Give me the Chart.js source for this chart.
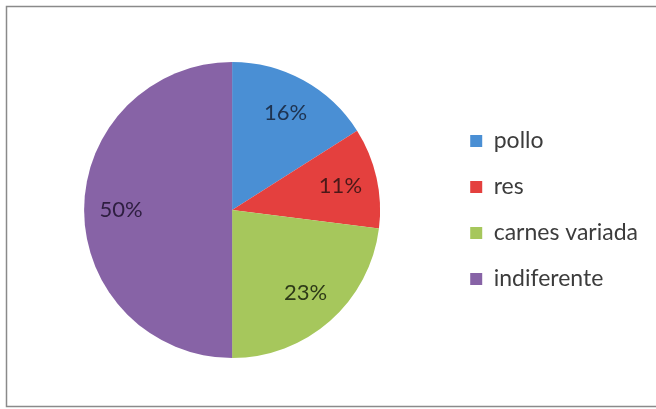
<!DOCTYPE html>
<html>
<head>
<meta charset="utf-8">
<script src="https://cdn.jsdelivr.net/npm/chart.js@4.4.1/dist/chart.umd.min.js"></script>
<style>
  html, body { margin: 0; padding: 0; background: #fff; }
  #wrap { width: 656px; height: 409px; position: relative; }
</style>
</head>
<body>
<div id="wrap"><canvas id="pieChart" width="656" height="409"></canvas></div>
<script>
// data
const categories = ['pollo', 'res', 'carnes variada', 'indiferente'];
const shares = [16, 11, 23, 50];
const sliceColors = ['#4a8fd4', '#e4403e', '#a6c75c', '#8763a6'];
const labelColors = ['#1e3350', '#4a1818', '#2e3a18', '#2e1e40'];

// percentage text inside each slice
const sliceLabels = {
  id: 'sliceLabels',
  afterDatasetsDraw(chart) {
    const ctx = chart.ctx;
    const meta = chart.getDatasetMeta(0);
    ctx.save();
    ctx.font = '22px Lato';
    ctx.textAlign = 'center';
    ctx.textBaseline = 'middle';
    meta.data.forEach((arc, i) => {
      const mid = (arc.startAngle + arc.endAngle) / 2;
      const r = arc.outerRadius * 0.75;
      ctx.fillStyle = labelColors[i];
      ctx.fillText(shares[i] + '%', arc.x + Math.cos(mid) * r, arc.y + Math.sin(mid) * r);
    });
    ctx.restore();
  }
};

// thin frame round the chart like the excel chart box
const frame = {
  id: 'frame',
  beforeDraw(chart) {
    const ctx = chart.ctx;
    ctx.save();
    ctx.strokeStyle = '#8a8a8a';
    ctx.lineWidth = 1.5;
    ctx.strokeRect(6.5, 6.5, 700, 400);
    ctx.restore();
  }
};

new Chart(document.getElementById('pieChart').getContext('2d'), {
  type: 'pie',
  data: {
    labels: categories,
    datasets: [{
      data: shares,
      backgroundColor: sliceColors,
      borderWidth: 0
    }]
  },
  options: {
    responsive: false,
    animation: false,
    layout: { padding: { left: 17, right: 8, top: 62, bottom: 51 } },
    plugins: {
      tooltip: { enabled: false },
      legend: {
        position: 'right',
        labels: {
          color: '#3c3c3c',
          font: { family: 'Lato', size: 23 },
          boxWidth: 12,
          boxHeight: 12,
          padding: 23
        }
      }
    }
  },
  plugins: [sliceLabels, frame]
});
</script>
</body>
</html>
